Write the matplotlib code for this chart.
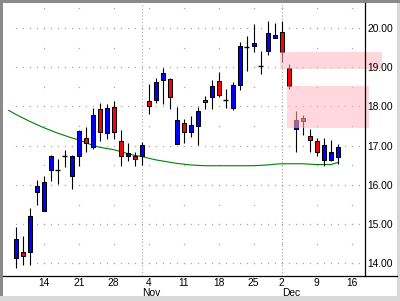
import matplotlib
matplotlib.use('Agg')
import matplotlib.pyplot as plt
import numpy as np
import pandas as pd
from matplotlib.patches import Rectangle
from matplotlib.lines import Line2D
import matplotlib.transforms as mtransforms

plt.rcParams['font.family'] = ['Liberation Sans', 'DejaVu Sans']

# ---------------- data ----------------
holidays = ['2002-11-28']
trading_days = pd.bdate_range('2002-10-07', '2002-12-20')
trading_days = trading_days[~trading_days.isin(pd.to_datetime(holidays))]

candle_start = '2002-10-08'
opens = [14.15, 14.29, 14.29, 15.83, 15.33, 16.38, 16.38, 16.74, 16.22, 16.73,
         17.19, 16.98, 17.93, 17.32, 17.98, 17.12, 16.73, 16.73, 16.73, 18.14,
         18.17, 18.68, 18.70, 17.04, 17.58, 17.34, 17.51, 18.17, 18.23, 18.65,
         18.17, 17.97, 18.54, 19.52, 19.53, 19.02, 19.42, 19.74, 19.89, 18.97,
         17.42, 17.70, 17.25, 17.12, 16.63, 16.63, 16.72]
highs = [14.94, 14.69, 15.41, 16.13, 16.23, 16.76, 16.67, 16.90, 16.76, 17.40,
         17.48, 17.96, 18.10, 18.07, 18.14, 17.40, 17.07, 16.85, 17.09, 18.58,
         18.72, 18.97, 18.72, 17.99, 17.68, 17.76, 17.99, 18.27, 18.68, 18.88,
         18.45, 18.63, 19.64, 19.80, 20.10, 19.41, 20.18, 20.12, 20.19, 19.08,
         17.89, 17.79, 17.43, 17.19, 17.19, 17.15, 17.05]
lows = [13.89, 13.97, 13.97, 15.48, 15.33, 16.09, 16.03, 16.47, 15.90, 16.49,
        16.85, 16.91, 17.11, 17.17, 17.18, 16.49, 16.62, 16.49, 16.51, 17.82,
        18.09, 18.07, 17.93, 17.04, 17.08, 17.21, 17.02, 17.93, 17.93, 18.25,
        17.97, 17.90, 18.42, 18.91, 19.40, 18.83, 19.30, 19.74, 19.13, 18.44,
        16.83, 17.28, 16.83, 16.75, 16.49, 16.60, 16.53]
closes = [14.63, 14.20, 15.22, 15.98, 16.07, 16.74, 16.38, 16.74, 16.74, 17.38,
          17.08, 17.78, 17.36, 17.96, 17.36, 16.73, 16.81, 16.67, 17.02, 18.02,
          18.63, 18.85, 18.23, 17.66, 17.35, 17.52, 17.89, 18.11, 18.52, 18.28,
          18.17, 18.54, 19.53, 19.52, 19.61, 19.02, 19.87, 19.82, 19.38, 18.51,
          17.66, 17.62, 17.15, 16.84, 17.02, 16.84, 16.97]

ma_start = '2002-10-07'
moving_avg = [17.90, 17.80, 17.71, 17.62, 17.54, 17.46, 17.39, 17.32, 17.26, 17.20,
              17.15, 17.08, 17.01, 16.96, 16.93, 16.90, 16.85, 16.80, 16.75, 16.73,
              16.68, 16.64, 16.61, 16.58, 16.55, 16.53, 16.51, 16.50, 16.49, 16.49,
              16.49, 16.49, 16.49, 16.49, 16.49, 16.49, 16.50, 16.51, 16.53, 16.54,
              16.54, 16.54, 16.54, 16.53, 16.52, 16.52, 16.52, 16.57]

# shaded price zones (start/end in trading-day index units, price bounds)
zone_start = [38.76, 39.71]
zone_end = [53.3, 51.47]
zone_low = [18.96, 17.44]
zone_high = [19.40, 18.52]

price_ticks = [14, 15, 16, 17, 18, 19, 20]

# ---------------- figure ----------------
W, H = 400, 301
fig = plt.figure(figsize=(W / 100, H / 100), dpi=100)
fig.patch.set_facecolor('#d8d8d8')
# window-like border
fig.add_artist(Rectangle((3 / W, 5 / H), 394 / W, 293 / H, transform=fig.transFigure,
                         facecolor='white', edgecolor='none', zorder=0))
fig.add_artist(Rectangle((0, (H - 3) / H), 1, 3 / H, transform=fig.transFigure,
                         facecolor='#8a8a8a', edgecolor='none', zorder=0))
fig.add_artist(Rectangle((0, 5 / H), 3 / W, (H - 5) / H, transform=fig.transFigure,
                         facecolor='#8a8a8a', edgecolor='none', zorder=0))

ax_left, ax_right, ax_top, ax_bot = 3, 365, 3, 276
ax = fig.add_axes([ax_left / W, (H - ax_bot) / H, (ax_right - ax_left) / W,
                   (ax_bot - ax_top) / H])
ax.set_facecolor('none')
for s in ax.spines.values():
    s.set_visible(False)

pos = {d: i for i, d in enumerate(trading_days)}
c0 = pos[pd.Timestamp(candle_start)]
xc = np.arange(c0, c0 + len(opens))
m0 = pos[pd.Timestamp(ma_start)]
xm = np.arange(m0, m0 + len(moving_avg))

ax.set_xlim(-0.814, 50.9)
ax.set_ylim(13.68, 20.637)

# dotted grid
grid_c = '#a8a8a8'
grid_x = np.arange(c0, 51)
for p in price_ticks:
    ax.plot(grid_x, np.full(len(grid_x), p), ls='none', marker='s', ms=0.9,
            mew=0, color=grid_c, zorder=1)
mondays = [pos[d] for d in trading_days if d.weekday() == 0 and pos[d] >= c0]
half_steps = np.arange(14.0, 20.51, 0.5)
for m in mondays:
    ax.plot(np.full(len(half_steps), m), half_steps, ls='none', marker='s', ms=0.9,
            mew=0, color=grid_c, zorder=1)

# month starts
month_first = []
prev_month = None
for d in trading_days:
    if prev_month is not None and d.month != prev_month:
        month_first.append(d)
    prev_month = d.month
for d in month_first:
    if pos[d] < 50:
        ax.axvline(pos[d], color=grid_c, lw=0.8, ls=(0, (1, 2)), zorder=1)

# moving average
ax.plot(xm, moving_avg, color='#008000', lw=0.8, zorder=2)

# candles
o = np.array(opens); c = np.array(closes)
hi = np.array(highs); lo = np.array(lows)
ax.vlines(xc, lo, hi, color='black', lw=0.8, zorder=3)
up = c > o
down = c < o
flat = c == o
bw = 0.62
ax.bar(xc[up], (c - o)[up], bottom=o[up], width=bw, color='#0000ff',
       edgecolor='black', linewidth=0.75, zorder=4)
ax.bar(xc[down], (c - o)[down], bottom=o[down], width=bw, color='#ff0000',
       edgecolor='black', linewidth=0.75, zorder=4)
ax.hlines(o[flat], xc[flat] - 0.38, xc[flat] + 0.38, color='black', lw=1.0, zorder=4)

# shaded zones
for xs, xe, yl, yh in zip(zone_start, zone_end, zone_low, zone_high):
    ax.add_patch(Rectangle((xs, yl), xe - xs, yh - yl, facecolor='#ffb6c1',
                           alpha=0.55, edgecolor='none', zorder=5, clip_on=False))

# axes lines
fig.add_artist(Line2D([3 / W, 397 / W], [(H - ax_bot) / H] * 2, color='black',
                      lw=0.9, transform=fig.transFigure, zorder=6))
fig.add_artist(Line2D([ax_right / W] * 2, [(H - ax_bot) / H, (H - ax_top) / H],
                      color='black', lw=0.9, transform=fig.transFigure, zorder=6))

# y tick labels
ax.yaxis.tick_right()
ax.set_yticks(price_ticks)
ax.set_yticklabels([f'{p:.2f}' for p in price_ticks])
ax.tick_params(axis='y', length=0, pad=1.6, labelsize=7.4)
ax.yaxis.set_zorder(7)
ax.xaxis.set_zorder(7)

# x tick labels (Mondays)
ax.set_xticks(mondays)
ax.set_xticklabels([str(trading_days[m].day) for m in mondays])
ax.tick_params(axis='x', length=0, pad=1.2, labelsize=7.4)

# month labels
trans = mtransforms.blended_transform_factory(ax.transData, fig.transFigure)
for d in month_first:
    if pos[d] < 50:
        ax.text(pos[d], (H - 293.5) / H, d.strftime('%b'), transform=trans,
                ha='left', va='center', fontsize=7.4, clip_on=False)

fig.savefig('out.png', dpi=100)
